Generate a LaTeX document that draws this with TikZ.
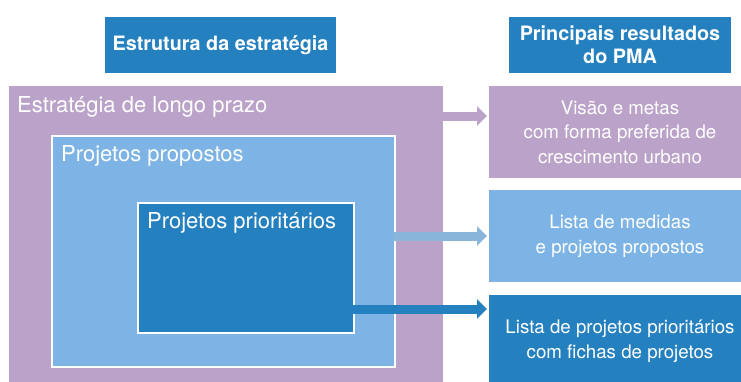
\documentclass[tikz,border=0pt]{standalone}
\usepackage{fontspec}
\setmainfont{TeX Gyre Heros}
\usepackage{tikz}
\usetikzlibrary{arrows.meta, positioning, calc}
\definecolor{pmapurple}{RGB}{186,162,201}
\definecolor{pmalight}{RGB}{125,180,229}
\definecolor{pmadark}{RGB}{37,128,192}
\definecolor{pmaarrow}{RGB}{138,181,218}

\begin{document}
\begin{tikzpicture}[x=1pt, y=-1pt,
  box/.style={rectangle, inner sep=0pt, outer sep=0pt, anchor=north west},
  header/.style={box, fill=pmadark, text=white, align=center,
    font=\fontsize{19.8}{23}\selectfont\bfseries, minimum height=56pt},
  result/.style={box, text=white, align=center,
    font=\fontsize{18.7}{24.5}\selectfont, minimum width=262pt, minimum height=92pt},
  boxlabel/.style={anchor=base west, inner sep=0pt, text=white,
    font=\fontsize{22}{26}\selectfont},
  flow/.style={line width=9pt, -{Triangle[length=10pt, width=19pt]},
    shorten >=2pt, shorten <=-2pt}]
\useasboundingbox (0,0) rectangle (741,381);

% Headers
\node[header, minimum width=231pt] (struct) at (105,17) {Estrutura da estratégia};
\node[header, minimum width=222pt] (outputs) at (509,17) {Principais resultados\\do PMA};

% Strategy structure
\node[box, fill=pmapurple, minimum width=434pt, minimum height=300pt] (longo) at (9,86) {};
\node[box, fill=pmalight, draw=white, line width=2pt,
  minimum width=343pt, minimum height=231pt] (propostos) at (52,136) {};
\node[box, fill=pmadark, draw=white, line width=2pt,
  minimum width=215.5pt, minimum height=129.7pt] (priorit) at (138,203) {};
\node[boxlabel] (longotxt) at (17,112) {Estratégia de longo prazo};
\node[boxlabel] (propostostxt) at (61,161) {Projetos propostos};
\node[boxlabel] (priorittxt) at (147,228) {Projetos prioritários};

% Results
\node[result, fill=pmapurple] (visao) at (489,86)
  {Visão e metas\\com forma preferida de\\crescimento urbano};
\node[result, fill=pmalight] (medidas) at (489,190)
  {Lista de medidas\\e projetos propostos};
\node[result, fill=pmadark] (fichas) at (489,295)
  {Lista de projetos prioritários\\com fichas de projetos};

% Arrows
\coordinate (visaoin) at ($(visao.north west)+(0,30)$);
\coordinate (fichasin) at ($(fichas.north west)+(0,14)$);
\draw[flow, pmapurple] (longo.east |- visaoin) -- (visaoin);
\draw[flow, pmaarrow] (propostos.east |- medidas.west) -- (medidas.west);
\draw[flow, pmadark] (priorit.east |- fichasin) -- (fichasin);
\end{tikzpicture}
\end{document}
